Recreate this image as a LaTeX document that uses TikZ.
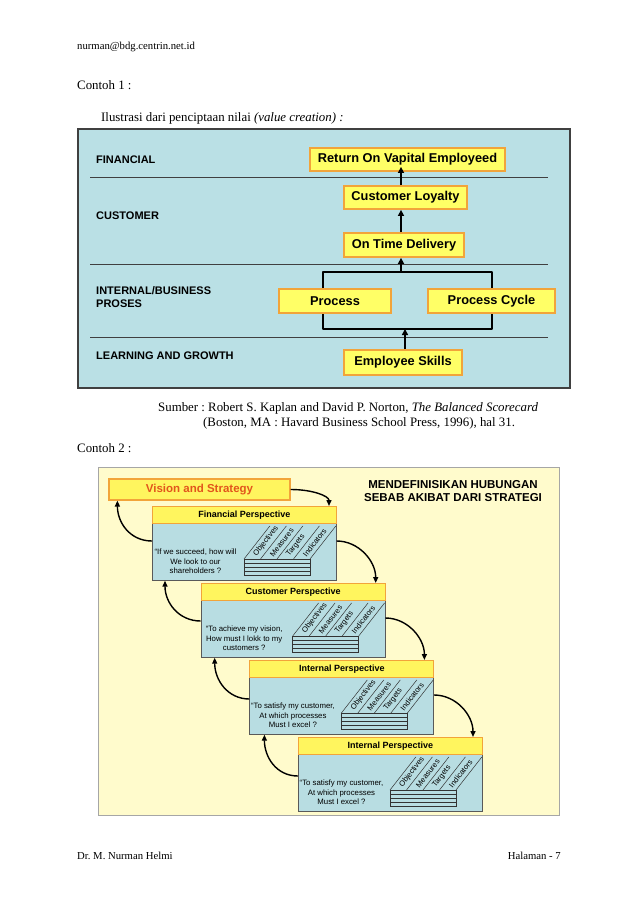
\documentclass[tikz,border=0pt]{standalone}
\usepackage{fontspec}
\setmainfont{Liberation Serif}
\newfontfamily\arialf{Liberation Sans}
\usetikzlibrary{arrows.meta,calc}
\frenchspacing
\definecolor{topbg}{HTML}{BAE0E5}
\definecolor{botbg}{HTML}{FFFBCC}
\definecolor{boxy}{HTML}{FFFF66}
\definecolor{boxo}{HTML}{F2A43A}
\definecolor{hdry}{HTML}{FFF55E}
\definecolor{panelb}{HTML}{B8DDE2}
\definecolor{visred}{HTML}{E2561C}
\definecolor{laneline}{HTML}{404040}
\newcommand\drawpersp[5]{%
  \node[bodybox, anchor=north west] (b#1) at (#2,#3+17) {};
  \node[hdrbox, anchor=north west] (h#1) at (#2,#3) {#4};
  \node[quest] (q#1) at (#2+43.5,#3+55.5) {#5};
  \draw[gridline] (#2+92,#3+53) rectangle (#2+158,#3+69);
  \foreach \yy in {57,61,65} \draw[gridline] (#2+92,#3+\yy) -- (#2+158,#3+\yy);
  \foreach \j in {0,...,4} \draw[gridline] (#2+92+16.5*\j,#3+53) -- ++(25.9,-33.1);
  \foreach \j/\t in {0/Objectives,1/Measures,2/Targets,3/Indicators}
    \node[collab] (l#1\j) at (#2+92+16.5*\j+8.25+2.5,#3+53-3.2) {\t};
}
\begin{document}
\begin{tikzpicture}[x=1pt,y=-1pt,
  pagetext/.style={anchor=base west, inner sep=0, font=\fontsize{12.86}{15}\selectfont},
  smalltext/.style={anchor=base west, inner sep=0, font=\fontsize{10.7}{13}\selectfont},
  lanelabel/.style={anchor=west, inner sep=0, align=left, font=\arialf\bfseries\fontsize{11}{13}\selectfont},
  ybox/.style={draw=boxo, line width=1.8pt, fill=boxy, inner sep=0, font=\arialf\bfseries\fontsize{12.8}{14}\selectfont},
  uparr/.style={line width=1.8pt, -{Triangle[length=6pt,width=6pt]}},
  hdrbox/.style={draw=boxo, line width=0.8pt, fill=hdry, minimum width=184pt, minimum height=17pt, inner sep=0, font=\arialf\bfseries\fontsize{9}{10}\selectfont},
  bodybox/.style={draw=gray!70!black, line width=0.7pt, fill=panelb, minimum width=184pt, minimum height=57pt, inner sep=0},
  quest/.style={align=center, inner sep=0, font=\arialf\fontsize{7.8}{9.5}\selectfont},
  collab/.style={rotate=52, anchor=west, inner sep=0.3pt, font=\arialf\fontsize{7.6}{8}\selectfont},
  gridline/.style={line width=0.5pt, draw=black!80},
  carr/.style={line width=1.4pt, -{Triangle[length=6pt,width=5pt]}},
]
\useasboundingbox (0,0) rectangle (638,903);
\fill[white] (0,0) rectangle (638,903);

% page texts
\node[smalltext] (email) at (77,49) {nurman@bdg.centrin.net.id};
\node[pagetext] (c1) at (77,89) {Contoh 1 :};
\node[pagetext] (ilus) at (101,121) {Ilustrasi dari penciptaan nilai \textit{(value creation) :}};
\node[pagetext] (src1) at (158,411) {Sumber : Robert S. Kaplan and David P. Norton, \textit{The Balanced Scorecard}};
\node[pagetext] (src2) at (203,426) {(Boston, MA : Havard Business School Press, 1996), hal 31.};
\node[pagetext] (c2) at (77,452) {Contoh 2 :};
\node[smalltext] (foot1) at (77,859) {Dr. M. Nurman Helmi};
\node[smalltext, anchor=base east] (foot2) at (561,859) {Halaman - 7};

% ===== top diagram
\draw[fill=topbg, draw=laneline, line width=1.2pt] (78,129) rectangle (570,388);
\foreach \yy in {177.5,264,337} \draw[laneline, line width=0.8pt] (90,\yy) -- (548,\yy);
\node[lanelabel] (lfin) at (96,160) {FINANCIAL};
\node[lanelabel] (lcus) at (96,216) {CUSTOMER};
\node[lanelabel] (lint) at (96,297.5) {INTERNAL/BUSINESS\\PROSES};
\node[lanelabel] (llea) at (96,356) {LEARNING AND GROWTH};

\coordinate (bTL) at (323,272);
\coordinate (bBR) at (492,329);
\draw[line width=1.8pt, line join=round] (bTL) rectangle (bBR);

\node[ybox, minimum width=195pt, minimum height=23pt] (ret) at (407.5,159.5) {Return On Vapital Employeed};
\node[ybox, minimum width=123pt, minimum height=23pt] (cl) at (405.5,197.5) {Customer Loyalty};
\node[ybox, minimum width=120pt, minimum height=24pt] (otd) at (404,245) {On Time Delivery};
\node[ybox, minimum width=112pt, minimum height=24pt] (proc) at (335,301) {Process};
\node[ybox, minimum width=127pt, minimum height=24pt] (pcyc) at (491.5,301) {Process Cycle};
\node[ybox, minimum width=118pt, minimum height=25pt] (es) at (403,362.5) {Employee Skills};

\coordinate (ax) at (401,0);
\coordinate (ax2) at (405,0);
\draw[uparr] (es.north -| ax2) -- (bBR -| ax2);
\draw[uparr] (bTL -| ax) -- (otd.south -| ax);
\draw[uparr] (otd.north -| ax) -- (cl.south -| ax);
\draw[uparr, shorten >=-5pt] (cl.north -| ax) -- (ret.south -| ax);

% ===== bottom diagram
\draw[fill=botbg, draw=gray!70, line width=1pt] (98,467) rectangle (559,815);
\node[draw=boxo, line width=1.2pt, fill=hdry, minimum width=181pt, minimum height=21pt, inner sep=0,
      font=\arialf\bfseries\fontsize{11.5}{13}\selectfont, text=visred] (vis) at (199.5,489.5) {Vision and Strategy};
\node[align=center, inner sep=0, font=\arialf\bfseries\fontsize{11.5}{13}\selectfont] (title) at (453,491.5)
  {MENDEFINISIKAN HUBUNGAN\\SEBAB AKIBAT DARI STRATEGI};

\drawpersp{1}{152}{506}{Financial Perspective}{“If we succeed, how will\\We look to our\\shareholders ?}
\drawpersp{2}{200.7}{583}{Customer Perspective}{“To achieve my vision,\\How must I lokk to my\\customers ?}
\drawpersp{3}{249.4}{660}{Internal Perspective}{“To satisfy my customer,\\At which processes\\Must I excel ?}
\drawpersp{4}{298}{737}{Internal Perspective}{“To satisfy my customer,\\At which processes\\Must I excel ?}

% right-hand arrows (downward)
\draw[carr] (vis.east) .. controls +(22,0) and +(0,-10) .. ($(h1.north west)+(177,0)$);
\draw[carr] ($(b1.north east)+(0,18)$) .. controls +(22,0) and +(0,-22) .. ($(h2.north west)+(175,0)$);
\draw[carr] ($(b2.north east)+(0,18)$) .. controls +(22,0) and +(0,-22) .. ($(h3.north west)+(175,0)$);
\draw[carr] ($(b3.north east)+(0,18)$) .. controls +(22,0) and +(0,-22) .. ($(h4.north west)+(175,0)$);
% left-hand arrows (upward)
\draw[carr] ($(b1.north west)+(0,18)$) .. controls +(-22,0) and +(0,22) .. ($(vis.south west)+(9,0)$);
\draw[carr] ($(b2.north west)+(0,21)$) .. controls +(-22,0) and +(0,22) .. ($(b1.south west)+(13,0)$);
\draw[carr] ($(b3.north west)+(0,22)$) .. controls +(-22,0) and +(0,22) .. ($(b2.south west)+(14,0)$);
\draw[carr] ($(b4.north west)+(0,22)$) .. controls +(-22,0) and +(0,22) .. ($(b3.south west)+(15,0)$);
\end{tikzpicture}
\end{document}
